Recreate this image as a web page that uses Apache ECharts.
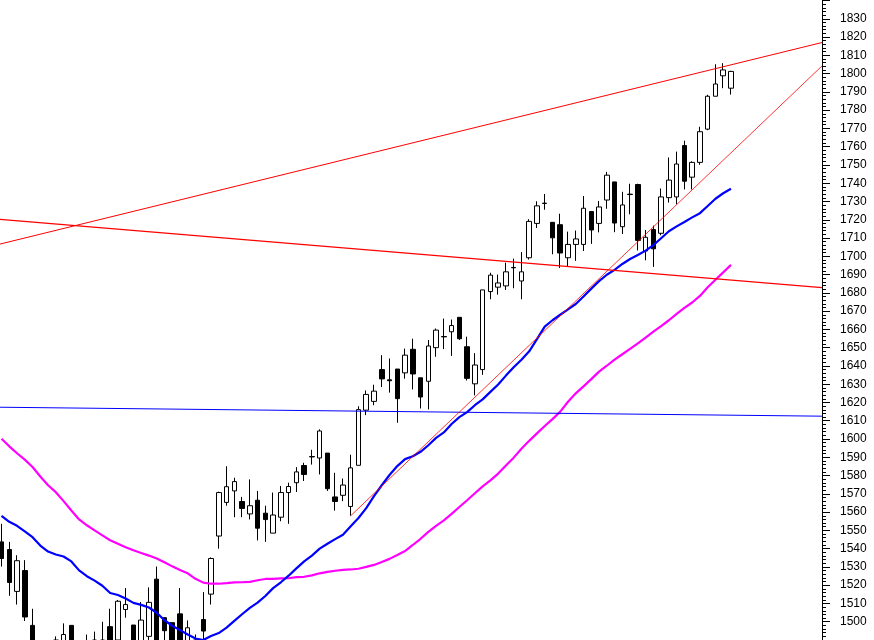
<!DOCTYPE html>
<html><head><meta charset="utf-8">
<script src="https://cdn.jsdelivr.net/npm/echarts@6/dist/echarts.min.js"></script>
<style>html,body{margin:0;padding:0;background:#fff}#c{width:874px;height:640px}</style>
</head><body><div id="c"></div>
<script>
// Daily bars, index 0..94 (oldest to newest)
const openP = [1543.7,1539.5,1516.6,1528.0,1498.0,1486.0,1478.0,1483.0,1488.0,1498.0,
1485.0,1481.0,1486.0,1490.0,1497.3,1490.0,1506.7,1498.2,1488.0,1492.0,
1523.3,1502.2,1499.5,1504.3,1488.0,1490.0,1501.2,1515.1,1546.9,1565.3,
1571.6,1565.8,1559.0,1566.5,1559.4,1548.5,1557.2,1570.7,1576.1,1585.5,
1590.4,1589.6,1592.3,1568.3,1569.2,1563.1,1585.6,1615.8,1620.6,1638.0,
1632.4,1638.3,1636.2,1649.1,1633.5,1631.6,1650.0,1656.1,1658.7,1666.6,
1650.5,1630.2,1638.0,1680.7,1683.1,1683.8,1693.9,1686.5,1699.2,1718.0,
1729.1,1718.6,1717.3,1699.2,1706.5,1706.5,1724.5,1718.0,1730.8,1740.7,
1716.2,1734.0,1739.3,1702.9,1714.6,1712.6,1732.1,1732.5,1760.6,1743.3,
1751.4,1769.6,1787.6,1798.8,1792.0];
const closeP = [1534.6,1521.5,1533.4,1502.6,1485.0,1478.0,1484.0,1490.0,1493.0,1486.0,
1480.0,1488.0,1490.0,1484.0,1486.0,1511.2,1509.4,1488.0,1500.9,1510.6,
1490.0,1495.1,1488.0,1486.0,1496.7,1486.0,1494.9,1534.6,1570.7,1573.9,
1576.7,1562.0,1563.5,1551.2,1555.9,1558.4,1570.7,1574.0,1582.0,1580.6,
1590.2,1604.4,1572.8,1565.8,1574.8,1584.2,1616.1,1624.4,1626.2,1632.9,
1631.9,1622.1,1645.9,1635.6,1623.0,1650.9,1659.6,1655.9,1662.1,1654.9,
1633.2,1640.5,1681.6,1689.7,1685.4,1691.5,1693.7,1691.5,1719.1,1727.6,
1728.9,1710.1,1701.8,1706.5,1709.5,1726.3,1714.4,1727.0,1744.4,1718.2,
1728.1,1733.8,1708.7,1710.4,1704.1,1732.5,1741.7,1750.5,1741.1,1751.4,
1768.2,1787.6,1794.3,1802.0,1801.2];
const lowP = [1530.2,1514.2,1509.4,1500.4,1480.0,1472.0,1470.0,1476.0,1482.0,1481.0,
1474.0,1477.0,1480.0,1479.0,1482.0,1487.0,1502.2,1484.0,1485.0,1488.0,
1486.0,1488.0,1484.0,1481.0,1484.0,1480.0,1489.0,1509.4,1540.0,1563.5,
1557.2,1557.2,1556.0,1544.5,1543.7,1548.5,1555.0,1553.6,1571.0,1577.0,
1586.0,1580.6,1571.6,1560.8,1566.0,1558.0,1585.6,1613.1,1618.5,1628.4,
1625.4,1608.9,1633.0,1627.1,1616.7,1616.2,1645.0,1649.2,1645.5,1654.2,
1632.0,1623.9,1635.1,1676.5,1679.0,1681.6,1682.5,1676.5,1698.2,1715.5,
1725.5,1701.1,1693.6,1694.2,1697.5,1702.9,1706.8,1713.1,1726.0,1713.2,
1712.2,1723.0,1703.2,1697.8,1694.2,1711.5,1729.4,1728.5,1736.6,1736.6,
1750.1,1769.0,1787.6,1792.0,1788.5];
const highP = [1553.6,1543.7,1536.4,1533.7,1507.1,1490.0,1489.0,1492.0,1499.1,1498.0,
1490.0,1493.0,1494.6,1500.0,1507.1,1511.9,1518.4,1498.2,1510.8,1518.8,
1530.2,1502.5,1499.5,1518.4,1500.7,1493.0,1516.2,1535.2,1571.2,1585.1,
1578.8,1568.3,1577.9,1571.6,1563.5,1570.7,1574.3,1576.1,1584.6,1587.0,
1594.1,1605.3,1592.3,1581.5,1578.4,1591.4,1617.9,1626.6,1629.7,1645.9,
1644.1,1638.3,1649.5,1654.9,1633.5,1654.2,1660.5,1665.9,1665.4,1666.6,
1656.0,1647.0,1681.6,1691.0,1690.0,1696.5,1698.7,1702.3,1720.3,1730.1,
1734.1,1718.6,1723.3,1713.5,1714.1,1733.0,1724.5,1730.3,1746.2,1740.7,
1735.3,1739.7,1739.7,1714.4,1716.8,1737.1,1754.1,1757.3,1763.3,1752.0,
1770.9,1788.4,1805.1,1805.7,1801.5];
// Moving averages
const maBlue = [1557.9,1554.7,1552.5,1549.5,1546.3,1541.7,1538.4,1536.8,1535.7,1533.0,
1528.1,1524.9,1522.5,1519.7,1515.7,1514.6,1512.7,1510.3,1509.2,1507.8,
1504.9,1500.8,1497.8,1495.4,1493.0,1490.8,1490.0,1492.2,1493.8,1496.8,
1500.5,1504.1,1507.6,1510.5,1514.1,1518.4,1521.6,1525.2,1529.2,1533.0,
1536.2,1540.0,1542.7,1545.2,1547.6,1552.2,1556.8,1562.2,1568.7,1574.7,
1580.3,1585.2,1589.0,1590.6,1593.0,1596.6,1600.6,1603.6,1608.2,1612.0,
1614.7,1618.5,1621.7,1625.8,1629.8,1634.7,1639.3,1643.4,1648.0,1654.7,
1661.5,1665.0,1668.0,1671.0,1673.9,1678.0,1682.3,1686.4,1689.9,1692.6,
1695.8,1698.5,1700.7,1703.1,1706.1,1709.9,1713.7,1716.4,1718.8,1721.3,
1723.6,1727.5,1731.5,1734.5,1737.0];
const maMagenta = [1600.1,1596.0,1592.2,1588.7,1584.7,1579.5,1574.7,1570.9,1566.0,1560.9,
1556.0,1552.8,1550.0,1547.3,1544.6,1542.7,1540.8,1539.1,1537.6,1536.2,
1534.6,1532.5,1530.3,1528.3,1526.5,1523.5,1521.4,1520.8,1520.8,1521.1,
1521.5,1521.6,1521.8,1522.7,1523.4,1523.5,1523.7,1523.8,1524.4,1524.6,
1525.4,1526.5,1527.3,1527.9,1528.4,1528.6,1529.0,1530.0,1531.1,1532.7,
1534.4,1536.5,1538.7,1542.0,1545.4,1549.2,1552.5,1555.5,1559.0,1562.8,
1566.5,1570.3,1574.1,1577.4,1581.1,1585.5,1589.8,1594.7,1599.0,1603.1,
1607.1,1610.9,1615.0,1620.4,1625.0,1628.8,1632.8,1636.9,1640.1,1643.4,
1646.4,1649.3,1652.3,1655.5,1658.8,1661.8,1665.0,1668.5,1671.8,1674.7,
1678.3,1683.1,1687.2,1691.2,1695.3];
// Trend lines: [bar index, price] endpoints
const trendUpper   = [[-0.19, 1706.7], [105.73, 1817.0]];
const trendFalling = [[-0.19, 1720.2], [105.73, 1682.9]];
const trendRising  = [[45, 1558.0], [105.73, 1804.2]];
const levelBlue    = [[-0.19, 1617.4], [105.73, 1612.5]];
// Axis ranges
const xRange = [-0.193, 105.73];
const yRange = [1490, 1840];
const yStep = 10;

const candles = openP.map((o, i) => [i, o, closeP[i], lowP[i], highP[i]]);
const toXY = arr => arr.map((v, i) => [i, v]);

const chart = echarts.init(document.getElementById('c'), null, {renderer: 'canvas'});
const lineSeries = (data, color, width) => ({
  type: 'line', data, symbol: 'none', silent: true, animation: false,
  lineStyle: {color, width}, z: 3
});
chart.setOption({
  animation: false,
  backgroundColor: '#ffffff',
  grid: {left: 0, right: 52, top: 0.5, bottom: -7.5, containLabel: false},
  xAxis: {type: 'value', min: xRange[0], max: xRange[1], show: false, splitLine: {show: false},
    axisLine: {onZero: false}},
  yAxis: {
    type: 'value', position: 'right', min: yRange[0], max: yRange[1], interval: yStep,
    axisLine: {show: true, onZero: false, lineStyle: {color: '#000', width: 1}},
    axisTick: {show: true, length: 8, inside: false, lineStyle: {color: '#000', width: 1}},
    minorTick: {show: true, splitNumber: 5, length: 4, lineStyle: {color: '#000', width: 1}},
    splitLine: {show: false}, minorSplitLine: {show: false},
    axisLabel: {color: '#000', fontSize: 12, fontFamily: 'Liberation Sans, Arial, sans-serif',
      margin: 18, showMaxLabel: false, showMinLabel: false,
      formatter: v => String(v)}
  },
  series: [
    {type: 'candlestick', data: candles, barWidth: 5, z: 2,
      itemStyle: {color: '#ffffff', color0: '#000000', borderColor: '#000000', borderColor0: '#000000',
        borderColorDoji: '#000000', borderWidth: 1}},
    lineSeries(toXY(maMagenta), '#ff00ff', 2.2),
    lineSeries(toXY(maBlue), '#0000ff', 2.2),
    lineSeries(levelBlue, '#0000ff', 1),
    lineSeries(trendFalling, '#ff0000', 1.2),
    lineSeries(trendUpper, '#ff0000', 1),
    lineSeries(trendRising, '#ff0000', 0.8)
  ]
});
</script></body></html>
